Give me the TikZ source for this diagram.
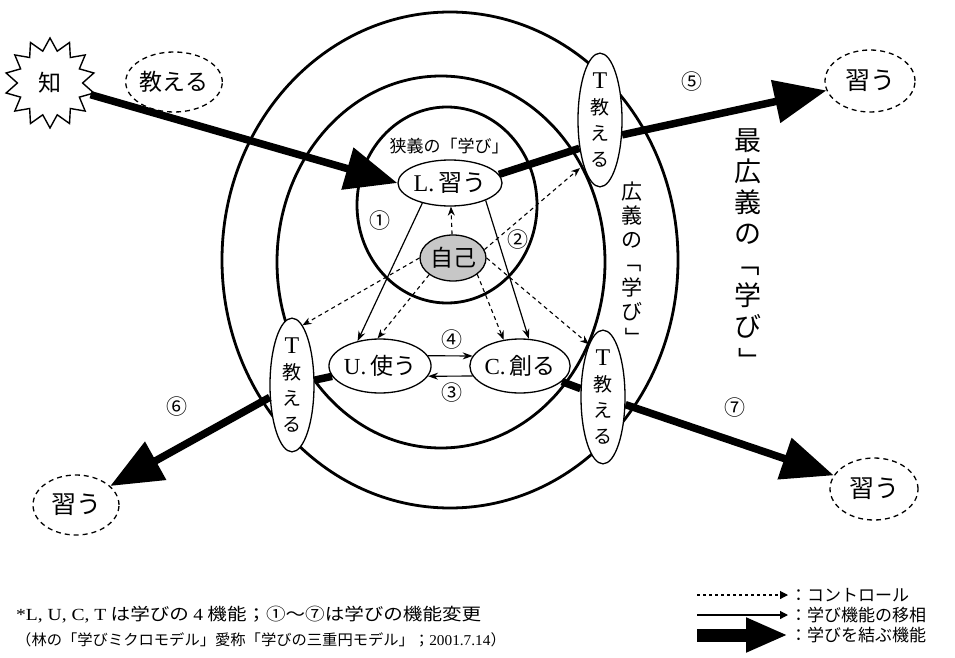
\documentclass[tikz,border=0pt]{standalone}
\usepackage{fontspec}
\usepackage{graphicx}
\setmainfont{Liberation Serif}
\newfontfamily\jp{Noto Sans CJK JP}
\usetikzlibrary{arrows.meta,shapes.geometric}
\newcommand\myfs[2]{\fontsize{#1}{#2}\selectfont}
\newcommand\vbra{\rotatebox[origin=c]{-90}{「}}
\newcommand\vket{\rotatebox[origin=c]{-90}{」}}
\newcommand\bigT{{\rmfamily\myfs{24}{26}T}}
\begin{document}
\begin{tikzpicture}[x=1pt,y=-1pt,
  circ/.style={line width=2.8pt},
  fn/.style={ellipse, draw, line width=1.3pt, inner sep=0pt, fill=white},
  dashnode/.style={ellipse, draw, line width=1.3pt, dash pattern=on 5pt off 4pt, inner sep=0pt},
  tnode/.style={fn, minimum width=44pt, minimum height=108pt, align=center, font=\jp\myfs{19}{26}},
  bigline/.style={line width=7.5pt},
  big/.style={line width=7.5pt, -{Triangle[length=52pt,width=42pt]}},
  thin/.style={line width=1.2pt, -{Stealth[length=10pt,width=7pt]}},
  ctrl/.style={line width=1.1pt, dash pattern=on 4pt off 3.5pt, -{Stealth[length=9pt,width=7pt]}},
  num/.style={font=\jp\myfs{21}{21}, inner sep=0pt},
  lab/.style={font=\jp\myfs{17}{17}, anchor=west, inner sep=0pt}
]
\useasboundingbox (0,0) rectangle (955,658);

% concentric circles
\draw[circ] (450,260) ellipse [x radius=228pt, y radius=248pt];
\draw[circ] (441,262) ellipse [x radius=164pt, y radius=186pt];
\draw[circ] (447,205) ellipse [x radius=90pt, y radius=98pt];

% nodes
\node[star, star points=14, star point ratio=1.38, minimum size=90pt, draw, line width=1.4pt, inner sep=0pt, font=\jp\myfs{23}{23}] (chi) at (50,83) {知};
\node[dashnode, minimum width=82pt, minimum height=60pt, font=\jp\myfs{23}{23}] (teach) at (174,82) {教える};
\node[font=\jp\myfs{17}{17}, inner sep=0pt] (narrow) at (449,146) {狭義の「学び」};
\node[fn, minimum width=104pt, minimum height=46pt, font=\jp\myfs{24}{24}] (L) at (450,183) {{\rmfamily L.}\,習う};
\node[fn, minimum width=66pt, minimum height=46pt, font=\jp\myfs{23}{23}, fill=black!22] (self) at (453,258) {自己};
\node[fn, minimum width=86pt, minimum height=54pt, font=\jp\myfs{23}{23}] (U) at (380,366) {{\rmfamily U.}\,使う};
\node[fn, minimum width=86pt, minimum height=54pt, font=\jp\myfs{23}{23}] (C) at (520,366) {{\rmfamily C.}\,創る};
\node[tnode] (Ttop) at (600,120) {\bigT\\教\\え\\る};
\node[tnode] (Tl) at (292,385) {\bigT\\教\\え\\る};
\node[tnode] (Tr) at (603,397) {\bigT\\教\\え\\る};
\node[dashnode, minimum width=90pt, minimum height=62pt, font=\jp\myfs{25}{25}] (nTR) at (870,81) {習う};
\node[dashnode, minimum width=86pt, minimum height=60pt, font=\jp\myfs{25}{25}] (nBL) at (76,505) {習う};
\node[dashnode, minimum width=88pt, minimum height=62pt, font=\jp\myfs{25}{25}] (nBR) at (874,489) {習う};

% vertical texts
\node[font=\jp\myfs{27}{31}, align=center, inner sep=0pt] (vt1) at (748,252) {最\\広\\義\\の\\\vbra\\学\\び\\\vket};
\node[font=\jp\myfs{21}{24}, align=center, inner sep=0pt] (vt2) at (632,265) {広\\義\\の\\\vbra\\学\\び\\\vket};

% thick connectors
\draw[big] (chi) -- (L.west);
\draw[bigline] (L.10) -- (Ttop.234);
\draw[big] (Ttop.326) -- (nTR);
\draw[bigline] (U) -- (Tl);
\draw[big] (Tl) -- (nBL);
\draw[bigline] (C) -- (Tr);
\draw[big] (Tr) -- (nBR);

% thin transitions
\draw[thin] (L.216) -- (U.132);
\draw[thin] (L.334) -- (C.72);
\draw[thin] (U.12) -- (C.168);
\draw[thin] (C.192) -- (U.348);

% control
\coordinate (cTop) at (580,168);
\draw[ctrl] (self) -- (L);
\draw[ctrl] (self.215) -- (U.95);
\draw[ctrl] (self.326) -- (C.122);
\draw[ctrl] (self.west) -- (Tl.80);
\draw[ctrl] (self.east) -- (Tr.105);
\draw[ctrl] (self.15) -- (cTop);

% numbers
\node[num] (n1) at (380,221) {①};
\node[num] (n2) at (518,240) {②};
\node[num] (n3) at (452,393) {③};
\node[num] (n4) at (452,340) {④};
\node[num] (n5) at (692,82) {⑤};
\node[num] (n6) at (177,407) {⑥};
\node[num] (n7) at (735,408) {⑦};

% legend
\coordinate (la1) at (697,595); \coordinate (lb1) at (788,595);
\coordinate (la2) at (697,615); \coordinate (lb2) at (788,615);
\coordinate (la3) at (697,635); \coordinate (lb3) at (788,635);
\draw[line width=1.1pt, dash pattern=on 3pt off 3pt, -{Triangle[length=8pt,width=8pt]}] (la1) -- (lb1);
\draw[line width=1.2pt, -{Triangle[length=8pt,width=8pt]}] (la2) -- (lb2);
\draw[line width=13pt, -{Triangle[length=42pt,width=32pt]}] (la3) -- (lb3);
\node[lab] (l1) at (790,595) {：コントロール};
\node[lab] (l2) at (790,615) {：学び機能の移相};
\node[lab] (l3) at (790,635) {：学びを結ぶ機能};

% footnotes
\node[font=\jp\myfs{17}{17}, anchor=west, inner sep=0pt] (f1) at (16,615) {\scalebox{1.15}[1]{{\rmfamily *L, U, C, T} は学びの {\rmfamily 4} 機能；①～⑦は学びの機能変更}};
\node[font=\jp\myfs{15}{15}, anchor=west, inner sep=0pt] (f2) at (16,640) {\scalebox{1.02}[1]{（林の「学びミクロモデル」愛称「学びの三重円モデル」；{\rmfamily 2001.7.14}）}};
\end{tikzpicture}
\end{document}
